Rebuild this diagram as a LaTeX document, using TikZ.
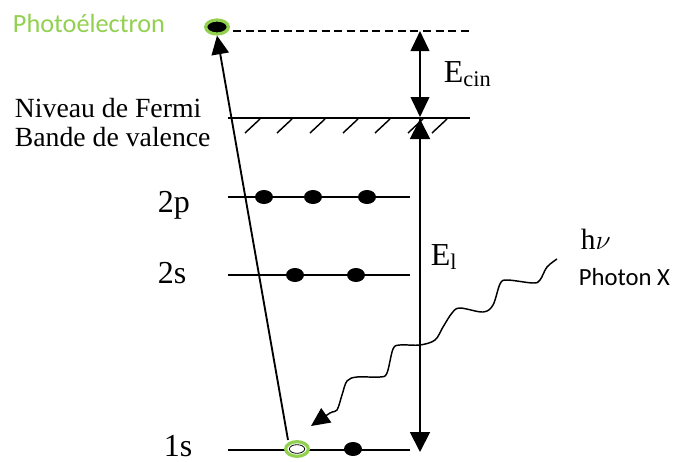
\documentclass[tikz,border=0pt]{standalone}
\usepackage{fontspec}
\setmainfont{Liberation Serif}
\newfontfamily\calibri{Carlito}
\usetikzlibrary{arrows.meta,shapes.geometric}
\definecolor{pgreen}{RGB}{146,208,80}
\begin{document}
\begin{tikzpicture}[x=0.75pt,y=-0.75pt,line width=1.4pt,
  level/.style={line width=1.4pt},
  hatch/.style={line width=1.1pt},
  eldot/.style={ellipse,fill=black,inner sep=0pt,minimum width=13.5pt,minimum height=10.5pt},
  bigtip/.style={-{Triangle[length=15pt,width=15pt]}},
  txt/.style={inner sep=0pt,anchor=base west},
  labsize/.style={font=\fontsize{20.8}{24}\selectfont},
  orbsize/.style={font=\fontsize{24}{28}\selectfont},
  esize/.style={font=\fontsize{24}{28}\selectfont},
  sanslab/.style={font=\calibri\fontsize{18.5}{21}\selectfont}]
\useasboundingbox (0,0) rectangle (681,461);

% coordinates
\coordinate (fermiL) at (228,118);
\coordinate (fermiR) at (470,118);
\coordinate (dashR) at (470,31);
\coordinate (ecTop) at (420,31);
\coordinate (ecBot) at (420,117);
\coordinate (elTop) at (420,119);
\coordinate (elBot) at (420,452);
\coordinate (p2L) at (228,197);
\coordinate (p2R) at (410,197);
\coordinate (s2L) at (228,275);
\coordinate (s2R) at (410,275);
\coordinate (s1L) at (228,450);
\coordinate (s1R) at (410,450);

% texts
\node[txt,text=pgreen,font=\calibri\fontsize{19.7}{22}\selectfont] (tphot) at (12,32) {Photoélectron};
\node[txt,labsize] (tfermi) at (14,117) {Niveau de Fermi};
\node[txt,labsize] (tbande) at (14,146) {Bande de valence};
\node[txt,orbsize] (t2p) at (157,212) {2p};
\node[txt,orbsize] (t2s) at (157,283) {2s};
\node[txt,orbsize] (t1s) at (163,456) {1s};
\node[txt,esize] (tecin) at (443,82) {E\textsubscript{cin}};
\node[txt,esize] (tel) at (430,265) {E\textsubscript{l}};
\node[txt,font=\fontsize{22}{26}\selectfont] (thv) at (580,249) {h$\nu$};
\node[txt,sanslab] (tphx) at (578,285) {Photon X};

% Fermi level and hatching
\draw[level] (fermiL) -- (fermiR);
\foreach \hx in {245,277,310,343,375,408,432}
  \draw[hatch] (\hx,133) -- ++(15,-14);

% levels
\draw[level] (p2L) -- (p2R);
\draw[level] (s2L) -- (s2R);
\draw[level] (s1L) -- (s1R);

% electrons
\node[eldot] (e2p1) at (264,197) {};
\node[eldot] (e2p2) at (313,197) {};
\node[eldot] (e2p3) at (367,197) {};
\node[eldot] (e2s1) at (295,275) {};
\node[eldot] (e2s2) at (356,275) {};
\node[eldot] (e1s2) at (353,449) {};

% hole in 1s
\node[ellipse,draw=pgreen,line width=2.4pt,fill=white,inner sep=0pt,
      minimum width=17pt,minimum height=11pt] (hole) at (297,449) {};
\node[ellipse,draw=black,line width=0.6pt,inner sep=0pt,
      minimum width=11.5pt,minimum height=6.5pt] (holein) at (297,449) {};

% photoelectron
\node[ellipse,draw=pgreen,line width=2.4pt,fill=black,inner sep=0pt,
      minimum width=17pt,minimum height=10.5pt] (pe) at (217,27) {};

% dashed line
\draw[line width=0.9pt,dash pattern=on 6pt off 3.5pt] (pe.east) ++(3,4) -- (dashR);

% energy arrows
\draw[bigtip] (elTop) -- (elBot);
\draw[{Triangle[length=15pt,width=15pt]}-] (elTop) -- ++(0,30);
\draw[{Triangle[length=15pt,width=14pt]}-{Triangle[length=15pt,width=14pt]}] (ecTop) -- (ecBot);

% ejection arrow
\draw[line width=1.4pt,-{Triangle[length=14pt,width=13pt]}] (288,440) -- (pe.south);

% photon wave
\draw[line width=1.1pt,-{Triangle[length=14pt,width=13pt]}] plot[smooth,tension=0.55] coordinates {
 (557,259) (547,267) (540,280) (533,283) (507,280) (500,284) (493,305) (483,312)
 (460,308) (452,313) (443,327) (435,340) (420,345) (400,345) (393,349) (387,373)
 (380,377) (357,377) (347,381) (342,395) (337,410) (330,413) (311,426)};
\end{tikzpicture}
\end{document}
